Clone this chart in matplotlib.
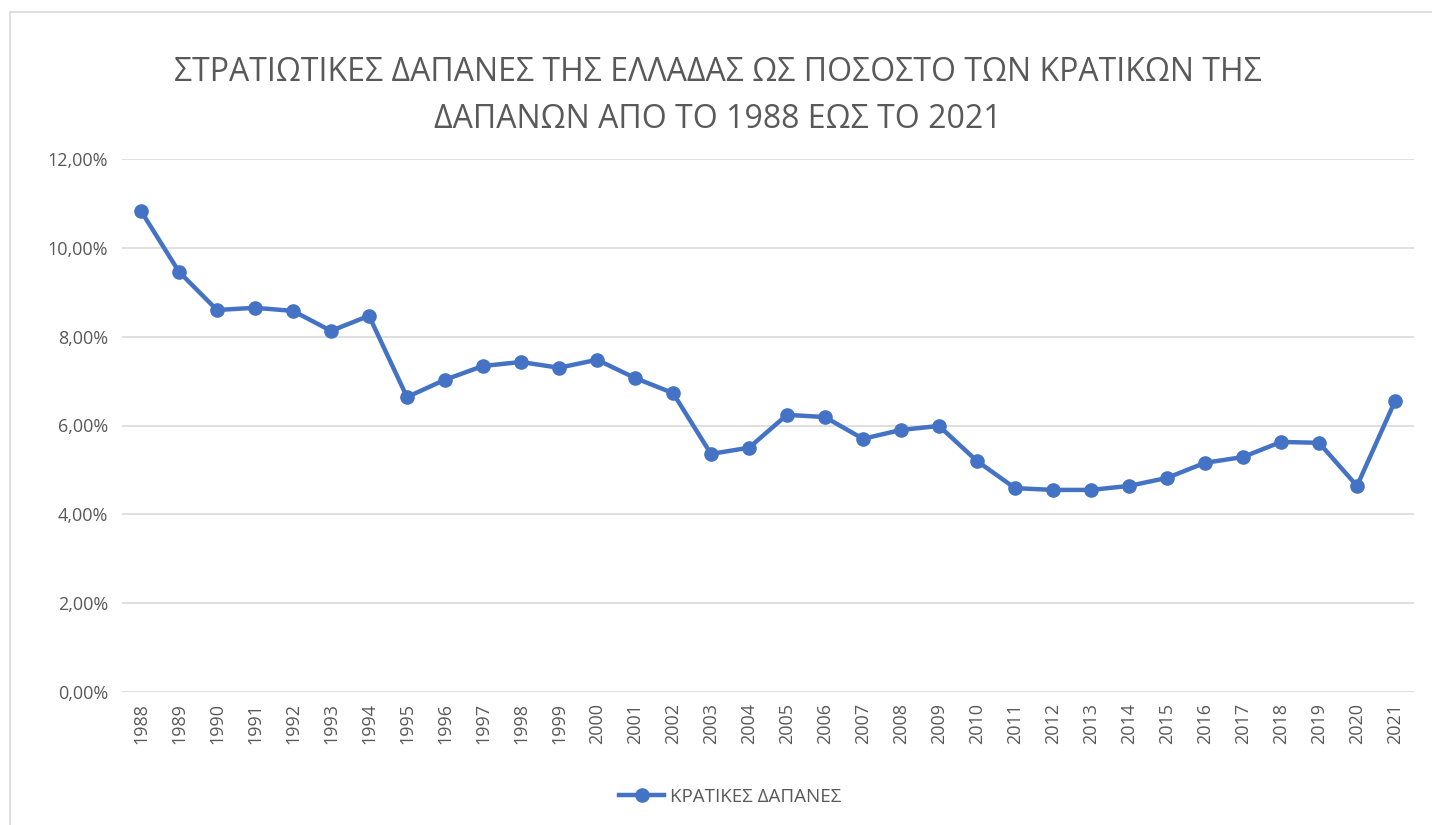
import matplotlib
matplotlib.use("Agg")
import matplotlib.pyplot as plt
from matplotlib.ticker import FuncFormatter, MultipleLocator
from matplotlib.patches import Rectangle

plt.rcParams['font.family'] = ['Open Sans', 'Noto Sans', 'DejaVu Sans']

years = [str(y) for y in range(1988, 2022)]
values = [10.83, 9.46, 8.60, 8.65, 8.58, 8.13, 8.47, 6.64, 7.03, 7.34,
          7.43, 7.30, 7.48, 7.07, 6.73, 5.36, 5.50, 6.24, 6.19, 5.70,
          5.90, 5.99, 5.20, 4.59, 4.55, 4.55, 4.64, 4.82, 5.16, 5.29,
          5.63, 5.61, 4.64, 6.55]
series_name = "ΚΡΑΤΙΚΕΣ ΔΑΠΑΝΕΣ"
title = "ΣΤΡΑΤΙΩΤΙΚΕΣ ΔΑΠΑΝΕΣ ΤΗΣ ΕΛΛΑΔΑΣ ΩΣ ΠΟΣΟΣΤΟ ΤΩΝ ΚΡΑΤΙΚΩΝ ΤΗΣ\nΔΑΠΑΝΩΝ ΑΠΟ ΤΟ 1988 ΕΩΣ ΤΟ 2021"

text_color = "#595959"
line_color = "#4472C4"

fig = plt.figure(figsize=(14.32, 8.25), dpi=100)
fig.patches.append(Rectangle((10/1432, -0.01), 1.02, 1 - 12/825 + 0.01,
                             transform=fig.transFigure, fill=False,
                             edgecolor="#D9D9D9", linewidth=1.2))
ax = fig.add_axes([122/1432, 1 - 692/825, (1414 - 122)/1432, (692 - 159)/825])

x = list(range(len(years)))
ax.plot(x, values, color=line_color, linewidth=3.2, marker='o',
        markersize=9.5, label=series_name, zorder=3)

ax.set_xlim(-0.5, len(years) - 0.5)
ax.set_ylim(0, 12)
ax.yaxis.set_major_locator(MultipleLocator(2))
ax.yaxis.set_major_formatter(FuncFormatter(lambda v, p: f"{v:.2f}%".replace('.', ',')))
ax.set_xticks(x)
ax.set_xticklabels(years, rotation=90)
ax.tick_params(axis='both', length=0, colors=text_color, labelsize=13)
ax.tick_params(axis='y', pad=10)
ax.tick_params(axis='x', pad=8)
ax.grid(axis='y', color="#D9D9D9", linewidth=1.2, zorder=0)
ax.set_axisbelow(True)
for s in ax.spines.values():
    s.set_visible(False)

fig.text(718/1432, 1 - 96/825, title, ha='center', va='center',
         fontsize=23, color=text_color, linespacing=1.55)

leg = fig.legend(loc='center', bbox_to_anchor=(730/1432, 1 - 797/825),
                 frameon=False, fontsize=13.5, handlelength=2.4,
                 handletextpad=0.3, labelcolor=text_color)

fig.savefig("out.png", dpi=100, facecolor="white")
